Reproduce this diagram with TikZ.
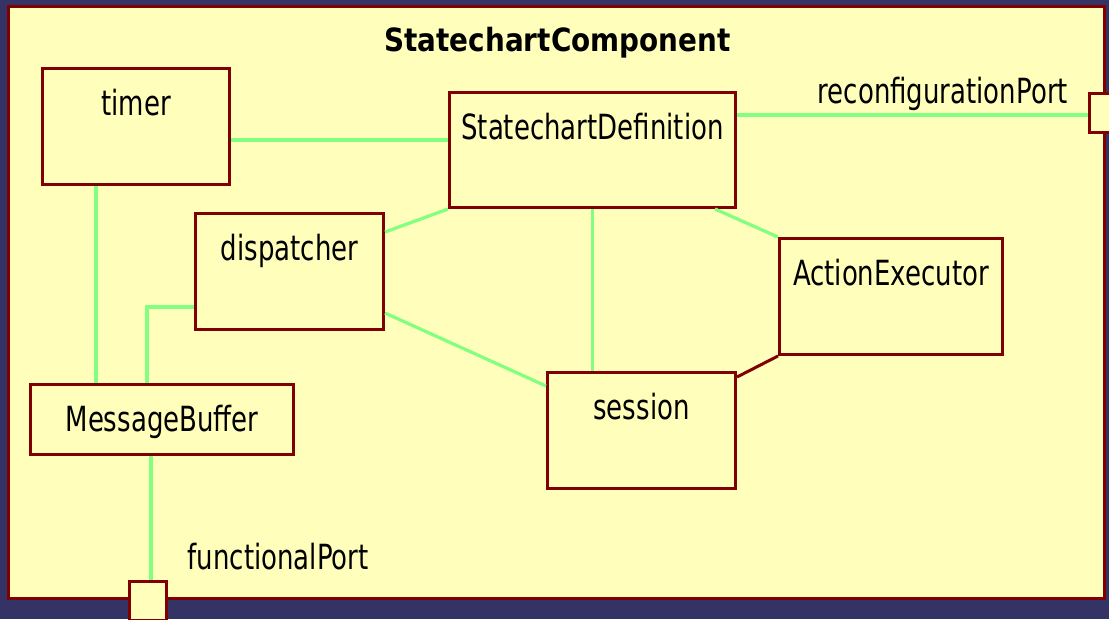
\documentclass[tikz,border=0pt]{standalone}
\usepackage{fontspec}
\setmainfont[FakeStretch=0.75]{DejaVu Sans}
\newfontfamily\titlefont[FakeStretch=0.87]{DejaVu Sans}
\usepackage{tikz}
\usetikzlibrary{arrows}

\definecolor{navy}{HTML}{333366}
\definecolor{pale}{HTML}{FFFFBB}
\definecolor{maroon}{HTML}{800000}
\definecolor{mint}{HTML}{80FF80}
\def\px{0.75pt}

\begin{document}
\begin{tikzpicture}[x=\px,y=-\px,font=\fontsize{26}{30}\selectfont,
		port/.style={draw=maroon,fill=pale,line width=3*\px,anchor=north west,inner sep=0pt,minimum width=37*\px,minimum height=39*\px}]
		\useasboundingbox (0,0) rectangle (1109,619);
		\fill[navy] (0,0) rectangle (1109,619);
		\draw[maroon,fill=pale,line width=3*\px] (8,6) rectangle (1104.5,598.5);
		\node[anchor=base,font=\titlefont\bfseries\fontsize{24}{28}\selectfont] (title) at (557.5,51.7) {StatechartComponent};
		
		\begin{scope}[every node/.style={draw=maroon,fill=pale,line width=3*\px,anchor=north west,inner sep=0pt,text height=47*\px}]
			\node[minimum width=187*\px,text depth=69*\px] (timer) at (41,67) {timer};
			\node[minimum width=286*\px,text depth=68*\px] (SD) at (448,91) {StatechartDefinition};
			\node[minimum width=188*\px,text depth=69*\px] (disp) at (194,212) {dispatcher};
			\node[minimum width=223*\px,text depth=69*\px] (AE) at (778,237) {ActionExecutor};
			\node[minimum width=188*\px,text depth=69*\px] (session) at (546,371) {session};
			\node[minimum width=263*\px,text depth=23*\px] (MB) at (29,383) {MessageBuffer};
		\end{scope}
		
		\node[port] (rport) at (1088,92) {};
		\node[port] (fport) at (128,580) {};
		\node[anchor=base west] (rlabel) at (813,103) {reconfigurationPort};
		\node[anchor=base west] (flabel) at (183,569) {functionalPort};
		
		\begin{scope}[every edge/.style={draw=mint,line width=3.2*\px}]
			\path (timer.east |- 0,140) edge (SD.west |- 0,140);
			\path (SD.east |- 0,115) edge (rport.west |- 0,115);
			\path (SD.south -| 715,0) edge (AE.north west);
			\path (SD.south) edge (SD.south |- session.north);
			\path (SD.south west) edge (disp.east |- 0,232);
			\path (disp.east |- 0,313) edge (session.west |- 0,386);
			\path (timer.south -| 96,0) edge (MB.north -| 96,0);
			\path (disp.west |- 0,307) edge[to path={-| (\tikztotarget)}] (MB.north -| 147,0);
			\path (MB.south -| 151,0) edge (fport.north -| 151,0);
		\end{scope}
		\path (session.east |- 0,377) edge[draw=maroon,line width=3*\px] (AE.south west);
	\end{tikzpicture}
\end{document}
